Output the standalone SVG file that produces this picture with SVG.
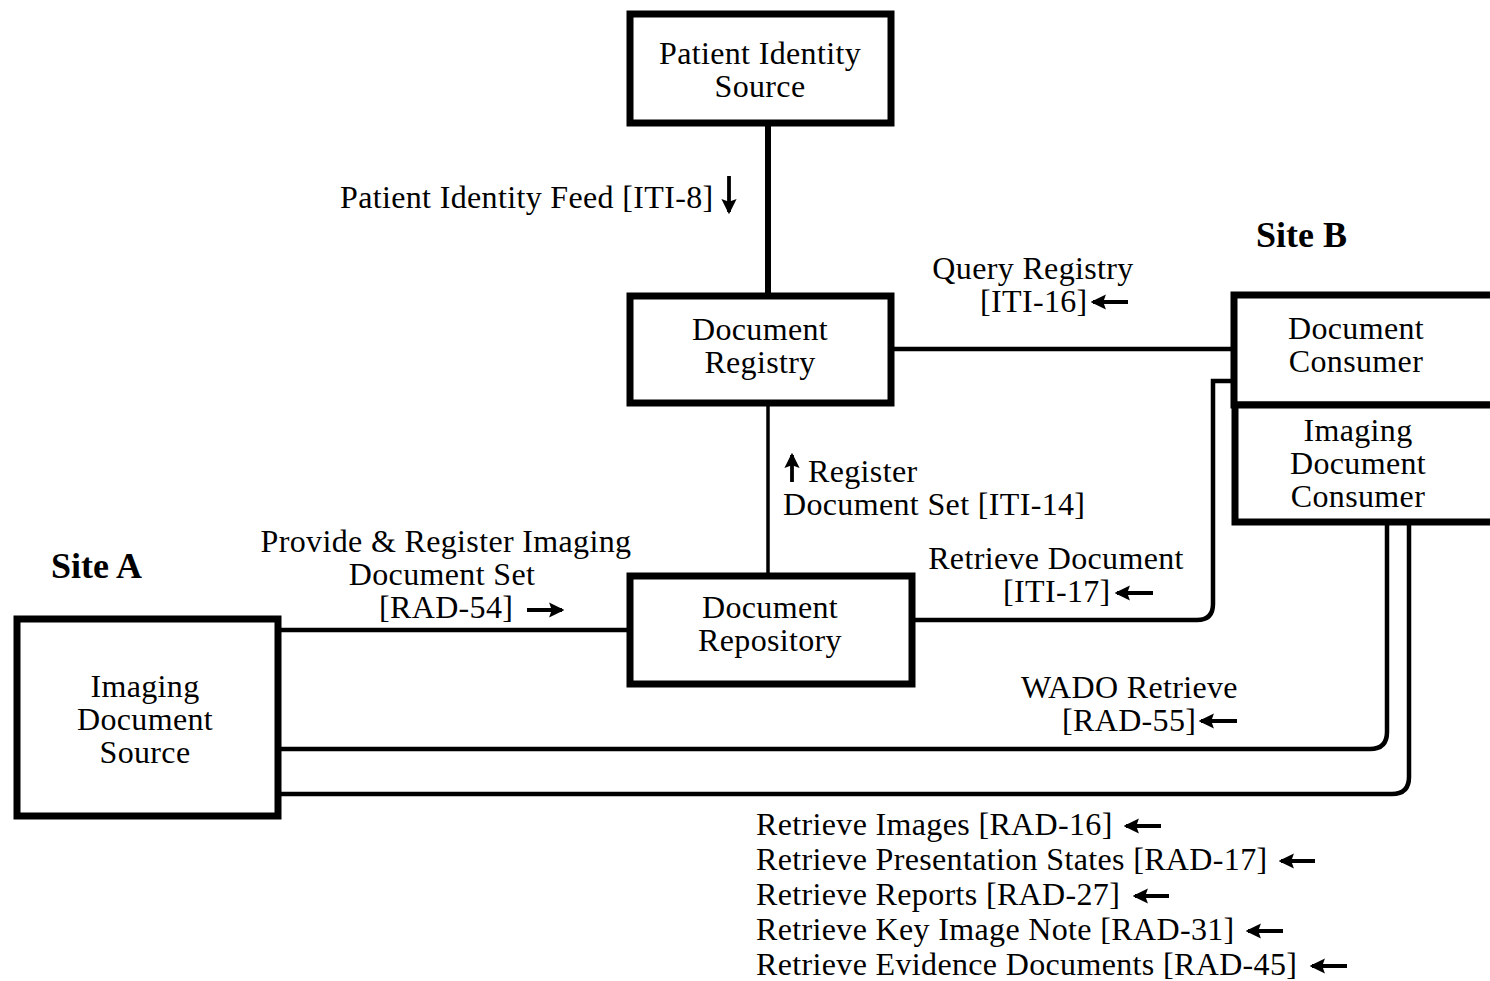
<svg xmlns="http://www.w3.org/2000/svg" width="1490" height="981" viewBox="0 0 1490 981">
<style>
text{font-family:"Liberation Serif","Times New Roman",serif;font-size:32px;letter-spacing:0.35px;fill:#000}
.c{text-anchor:middle}
.b{font-weight:bold;font-size:36px;letter-spacing:0}
.box{fill:#fff;stroke:#000;stroke-width:7}
.ln{fill:none;stroke:#000;stroke-width:4.5}
.ar{fill:none;stroke:#000;stroke-width:3.8;marker-end:url(#ah)}
</style>
<defs>
<marker id="ah" markerWidth="4" markerHeight="4" refX="3.4" refY="2" orient="auto" markerUnits="strokeWidth" viewBox="0 0 4 4">
<path d="M0,0 L4,2 L0,4 L0.7,2 Z" fill="#000"/>
</marker>
</defs>
<g id="connectors">
<line class="ln" x1="768" y1="126" x2="768" y2="294" style="stroke-width:6"/>
<line class="ln" x1="768" y1="406" x2="768" y2="574" style="stroke-width:3.5"/>
<line class="ln" x1="894" y1="349" x2="1232" y2="349"/>
<path class="ln" d="M913,620 H1197 Q1213,620 1213,604 V381 H1233"/>
<line class="ln" x1="281" y1="630" x2="628" y2="630"/>
<path class="ln" d="M281,749 H1370 Q1387,749 1387,732 V525"/>
<path class="ln" d="M281,794 H1392 Q1409,794 1409,777 V525"/>
</g>
<g id="patient-identity-source">
<rect class="box" x="630" y="14" width="261" height="109"/>
<text class="c" x="760" y="64">Patient Identity</text>
<text class="c" x="760" y="97">Source</text>
</g>
<g id="document-registry">
<rect class="box" x="630" y="296" width="261" height="107"/>
<text class="c" x="760" y="340">Document</text>
<text class="c" x="760" y="373">Registry</text>
</g>
<g id="document-repository">
<rect class="box" x="630" y="576" width="282" height="108"/>
<text class="c" x="770" y="618">Document</text>
<text class="c" x="770" y="651">Repository</text>
</g>
<g id="imaging-document-source">
<rect class="box" x="17" y="619" width="261" height="197"/>
<text class="c" x="145" y="697">Imaging</text>
<text class="c" x="145" y="730">Document</text>
<text class="c" x="145" y="763">Source</text>
</g>
<g id="document-consumer">
<rect class="box" x="1234" y="295" width="270" height="110"/>
<text class="c" x="1356" y="339">Document</text>
<text class="c" x="1356" y="372">Consumer</text>
</g>
<g id="imaging-document-consumer">
<rect class="box" x="1235" y="405" width="270" height="117"/>
<text class="c" x="1358" y="441">Imaging</text>
<text class="c" x="1358" y="474">Document</text>
<text class="c" x="1358" y="507">Consumer</text>
</g>
<g id="labels">
<text class="b" x="1256" y="247">Site B</text>
<text class="b" x="51" y="578">Site A</text>
<text x="340" y="208">Patient Identity Feed [ITI-8]</text>
<line class="ar" x1="729" y1="176" x2="729" y2="212"/>
<text class="c" x="1033" y="279">Query Registry</text>
<text x="980" y="312">[ITI-16]</text>
<line class="ar" x1="1128" y1="302" x2="1093" y2="302"/>
<line class="ar" x1="792" y1="482" x2="792" y2="455"/>
<text x="808" y="482">Register</text>
<text x="783" y="515">Document Set [ITI-14]</text>
<text class="c" x="446" y="552">Provide &amp; Register Imaging</text>
<text class="c" x="442" y="585">Document Set</text>
<text x="379" y="618">[RAD-54]</text>
<line class="ar" x1="527" y1="610" x2="562" y2="610"/>
<text class="c" x="1056" y="569">Retrieve Document</text>
<text x="1003" y="602">[ITI-17]</text>
<line class="ar" x1="1153" y1="593" x2="1117" y2="593"/>
<text x="1021" y="698">WADO Retrieve</text>
<text x="1062" y="731">[RAD-55]</text>
<line class="ar" x1="1237" y1="721" x2="1201" y2="721"/>
<text x="756" y="835">Retrieve Images [RAD-16]</text>
<line class="ar" x1="1161" y1="826" x2="1126" y2="826"/>
<text x="756" y="870">Retrieve Presentation States [RAD-17]</text>
<line class="ar" x1="1315" y1="861" x2="1281" y2="861"/>
<text x="756" y="905">Retrieve Reports [RAD-27]</text>
<line class="ar" x1="1169" y1="896" x2="1135" y2="896"/>
<text x="756" y="940">Retrieve Key Image Note [RAD-31]</text>
<line class="ar" x1="1283" y1="931" x2="1248" y2="931"/>
<text x="756" y="975">Retrieve Evidence Documents [RAD-45]</text>
<line class="ar" x1="1347" y1="966" x2="1312" y2="966"/>
</g>
</svg>
